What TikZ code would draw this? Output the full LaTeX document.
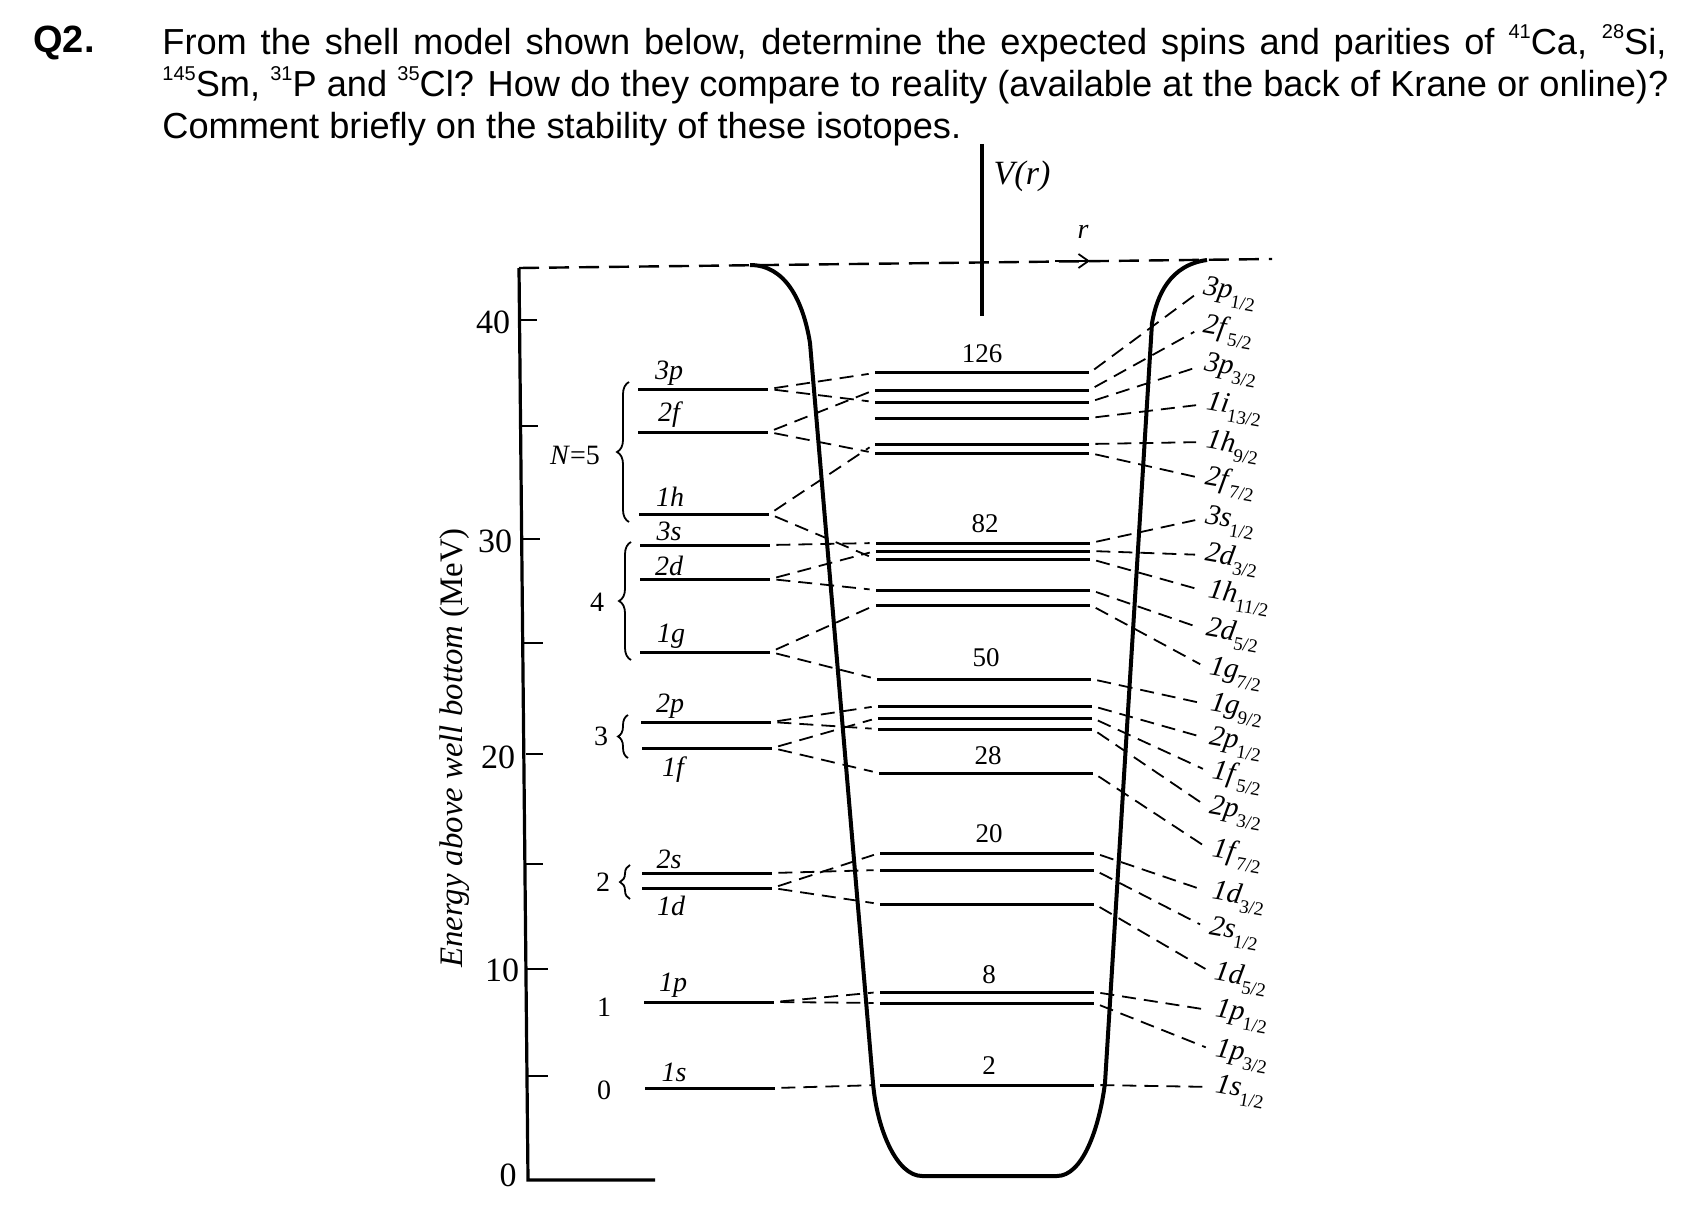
\documentclass[tikz,border=0pt]{standalone}
\usepackage{fontspec}
\setmainfont{Liberation Serif}
\setsansfont{Liberation Sans}
\usepackage{tikz}
\usetikzlibrary{arrows.meta,positioning,decorations.pathreplacing}
\newcommand{\isot}[1]{\raisebox{8pt}{\fontsize{10}{11}\selectfont #1}}
\newcommand{\orb}[2]{\textit{#1}\raisebox{-0.3em}{\fontsize{9.5}{10}\selectfont #2}}

\begin{document}
\begin{tikzpicture}[x=0.5pt,y=-0.5pt,>={Straight Barb[length=5pt,width=7pt]},
  levl/.style={fill=black,inner sep=0pt,minimum height=1.5pt,minimum width=65pt},
  levm/.style={fill=black,inner sep=0pt,minimum height=1.5pt,minimum width=107pt},
  dsh/.style={line width=0.9pt,dash pattern=on 7pt off 4pt,shorten <=3pt,shorten >=3pt},
  dshr/.style={dsh,shorten >=5pt},
  llab/.style={font=\fontsize{14}{16}\selectfont\itshape,inner sep=0pt},
  snum/.style={font=\fontsize{14}{16}\selectfont,inner sep=0pt},
  mag/.style={font=\fontsize{13.5}{15}\selectfont,inner sep=0pt},
  rlab/.style={font=\fontsize{14.5}{17}\selectfont,inner sep=0pt,anchor=west,rotate=-10},
  tnum/.style={font=\fontsize{17}{19}\selectfont,inner sep=0pt},
  tk/.style={line width=1.2pt},
  brc/.style={decorate,decoration={brace,amplitude=6pt,mirror},line width=0.9pt}]
\useasboundingbox (0,0) rectangle (1701,1219);
\node[anchor=north west,inner sep=0pt,font=\sffamily\bfseries\fontsize{19}{21}\selectfont] (qnum) at (33,26) {Q2.};
\node[anchor=north west,align=left,inner sep=0pt,font=\sffamily\fontsize{18.1}{21}\selectfont] (qtext) at (162,24) {\hbox to 752pt{From the shell model shown below, determine the expected spins and parities of \isot{41}Ca, \isot{28}Si,}\\ \hbox to 753pt{\isot{145}Sm, \isot{31}P and \isot{35}Cl? How do they compare to reality (available at the back of Krane or online)?}\\ Comment briefly on the stability of these isotopes.};
% energy axis
\coordinate (top) at (519,268);
\coordinate (bot) at (528,1180);
\coordinate (botr) at (655,1180);
\coordinate (far) at (1272,259);
\draw[line width=1.6pt] (top)--(bot)--(botr);
\draw[line width=1.2pt,dash pattern=on 10pt off 5pt] (top)--(far);
\draw[tk] (521,320)--(537,320); \draw[tk] (522,426)--(538,426); \draw[tk] (523,539)--(540,539); \draw[tk] (524,643)--(543,643);
\draw[tk] (526,754)--(543,754); \draw[tk] (526,864)--(543,864); \draw[tk] (527,969)--(548,969); \draw[tk] (528,1076)--(548,1076);
\node[tnum] (e40) at (493,322) {40};
\node[tnum] (e30) at (495,541) {30};
\node[tnum] (e20) at (498,757) {20};
\node[tnum] (e10) at (502,970) {10};
\node[tnum] (e0) at (508,1175) {0};
\node[rotate=90,font=\fontsize{16.4}{19}\selectfont\itshape,inner sep=0pt] (elab) at (455,748) {Energy above well bottom {\upshape (MeV)}};
% V(r) axis and well
\coordinate (vtop) at (982,144);
\coordinate (vbot) at (982,316);
\coordinate (ar0) at (1055,261);
\coordinate (ar1) at (1090,261);
\draw[line width=1.6pt] (vtop)--(vbot);
\node[llab,font=\fontsize{17}{19}\selectfont\itshape] (vr) at (1022,176) {V(r)};
\node[llab] (rr) at (1083,232) {r};
\draw[->,line width=0.9pt] (ar0)--(ar1);
\draw[line width=2pt] (750,265) .. controls (785,265) and (803,300) .. (810,343) -- (873,1083) .. controls (877,1130) and (897,1176) .. (922,1176) -- (1057,1176) .. controls (1082,1176) and (1099,1130) .. (1105,1083) -- (1152,323) .. controls (1157,295) and (1170,265) .. (1207,260);
% left levels
\node[levl] (l3p) at (703,389) {};
\node[levl] (l2f) at (703,432) {};
\node[levl] (l1h) at (704,514) {};
\node[levl] (l3s) at (705,545) {};
\node[levl] (l2d) at (705,579) {};
\node[levl] (l1g) at (705,652) {};
\node[levl] (l2p) at (706,722) {};
\node[levl] (l1f) at (707,748) {};
\node[levl] (l2s) at (707,873) {};
\node[levl] (l1d) at (707,888) {};
\node[levl] (l1p) at (709,1002) {};
\node[levl] (l1s) at (710,1088) {};
\node[llab,above=0.5pt of l3p,xshift=-17pt] (t3p) {3p};
\node[llab,above=1pt of l2f,xshift=-17pt] (t2f) {2f};
\node[llab,above=2.5pt of l1h,xshift=-17pt] (t1h) {1h};
\node[llab,above=1pt of l3s,xshift=-18pt] (t3s) {3s};
\node[llab,above=0.5pt of l2d,xshift=-18pt] (t2d) {2d};
\node[llab,above=0.5pt of l1g,xshift=-17pt] (t1g) {1g};
\node[llab,above=0.5pt of l2p,xshift=-18pt] (t2p) {2p};
\node[llab,below=3pt of l1f,xshift=-17pt] (t1f) {1f};
\node[llab,above=1pt of l2s,xshift=-19pt] (t2s) {2s};
\node[llab,below=3pt of l1d,xshift=-18pt] (t1d) {1d};
\node[llab,above=1pt of l1p,xshift=-18pt] (t1p) {1p};
\node[llab,above=2pt of l1s,xshift=-18pt] (t1s) {1s};
% shell numbers and braces
\node[snum] (n5) at (575,455) {\textit{N}=5};
\node[snum] (n4) at (597,602) {4};
\node[snum] (n3) at (601,736) {3};
\node[snum] (n2) at (603,882) {2};
\node[snum] (n1) at (604,1007) {1};
\node[snum] (n0) at (604,1090) {0};
\draw[brc] (629,382)--(629,522);
\draw[brc] (631,542)--(631,660);
\draw[brc,decoration={amplitude=5pt}] (628,715)--(628,758);
\draw[brc,decoration={amplitude=5pt}] (630,865)--(630,899);
% middle levels
\node[levm] (m3p1) at (982,373) {};
\node[levm] (m2f5) at (982,390) {};
\node[levm] (m3p3) at (982,402) {};
\node[levm] (m1i) at (982,418) {};
\node[levm] (m1h9) at (982,444) {};
\node[levm] (m2f7) at (982,453) {};
\node[levm] (m3s) at (983,543) {};
\node[levm] (m2d3) at (983,551) {};
\node[levm] (m1h11) at (983,559) {};
\node[levm] (m2d5) at (983,590) {};
\node[levm] (m1g7) at (983,605) {};
\node[levm] (m1g9) at (984,679) {};
\node[levm] (m2p1) at (985,706) {};
\node[levm] (m1f5) at (985,718) {};
\node[levm] (m2p3) at (985,729) {};
\node[levm] (m1f7) at (986,773) {};
\node[levm] (m1d3) at (987,853) {};
\node[levm] (m2s) at (987,870) {};
\node[levm] (m1d5) at (987,904) {};
\node[levm] (m1p1) at (987,992) {};
\node[levm] (m1p3) at (987,1003) {};
\node[levm] (m1s) at (987,1085) {};
\node[mag,above=4pt of m3p1] (c126) {126};
\node[mag,above=4pt of m3s,xshift=1pt] (c82) {82};
\node[mag,above=5pt of m1g9,xshift=1pt] (c50) {50};
\node[mag,above=3pt of m1f7,xshift=1pt] (c28) {28};
\node[mag,above=4pt of m1d3,xshift=1pt] (c20) {20};
\node[mag,above=3pt of m1p1,xshift=1pt] (c8) {8};
\node[mag,above=4pt of m1s,xshift=1pt] (c2) {2};
% right labels
\node[rlab] (r3p1) at (1203,289) {\orb{3p}{1/2}};
\node[rlab] (r2f5) at (1203,327) {\orb{2f}{5/2}};
\node[rlab] (r3p3) at (1204,365) {\orb{3p}{3/2}};
\node[rlab] (r1i) at (1206,404) {\orb{1i}{13/2}};
\node[rlab] (r1h9) at (1206,442) {\orb{1h}{9/2}};
\node[rlab] (r2f7) at (1205,479) {\orb{2f}{7/2}};
\node[rlab] (r3s) at (1205,518) {\orb{3s}{1/2}};
\node[rlab] (r2d3) at (1205,555) {\orb{2d}{3/2}};
\node[rlab] (r1h11) at (1208,592) {\orb{1h}{11/2}};
\node[rlab] (r2d5) at (1206,630) {\orb{2d}{5/2}};
\node[rlab] (r1g7) at (1209,669) {\orb{1g}{7/2}};
\node[rlab] (r1g9) at (1210,705) {\orb{1g}{9/2}};
\node[rlab] (r2p1) at (1209,739) {\orb{2p}{1/2}};
\node[rlab] (r1f5) at (1212,773) {\orb{1f}{5/2}};
\node[rlab] (r2p3) at (1209,808) {\orb{2p}{3/2}};
\node[rlab] (r1f7) at (1212,851) {\orb{1f}{7/2}};
\node[rlab] (r1d3) at (1212,893) {\orb{1d}{3/2}};
\node[rlab] (r2s) at (1209,929) {\orb{2s}{1/2}};
\node[rlab] (r1d5) at (1214,974) {\orb{1d}{5/2}};
\node[rlab] (r1p1) at (1215,1011) {\orb{1p}{1/2}};
\node[rlab] (r1p3) at (1215,1051) {\orb{1p}{3/2}};
\node[rlab] (r1s) at (1215,1087) {\orb{1s}{1/2}};
% splitting on the left
\draw[dsh] (l3p.east)--(m3p1.west); \draw[dsh] (l3p.east)--(m3p3.west);
\draw[dsh] (l2f.east)--(m2f5.west); \draw[dsh] (l2f.east)--(m2f7.west);
\draw[dsh] (l1h.east)--(m1h9.west); \draw[dsh] (l1h.east)--(m1h11.west);
\draw[dsh] (l3s.east)--(m3s.west);
\draw[dsh] (l2d.east)--(m2d3.west); \draw[dsh] (l2d.east)--(m2d5.west);
\draw[dsh] (l1g.east)--(m1g7.west); \draw[dsh] (l1g.east)--(m1g9.west);
\draw[dsh] (l2p.east)--(m2p1.west); \draw[dsh] (l2p.east)--(m2p3.west);
\draw[dsh] (l1f.east)--(m1f5.west); \draw[dsh] (l1f.east)--(m1f7.west);
\draw[dsh] (l2s.east)--(m2s.west);
\draw[dsh] (l1d.east)--(m1d3.west); \draw[dsh] (l1d.east)--(m1d5.west);
\draw[dsh] (l1p.east)--(m1p1.west); \draw[dsh] (l1p.east)--(m1p3.west);
\draw[dsh] (l1s.east)--(m1s.west);
% out to the right labels
\draw[dshr] (m3p1.east)--(r3p1.west); \draw[dshr] (m2f5.east)--(r2f5.west); \draw[dshr] (m3p3.east)--(r3p3.west);
\draw[dshr] (m1i.east)--(r1i.west); \draw[dshr] (m1h9.east)--(r1h9.west); \draw[dshr] (m2f7.east)--(r2f7.west);
\draw[dshr] (m3s.east)--(r3s.west); \draw[dshr] (m2d3.east)--(r2d3.west); \draw[dshr] (m1h11.east)--(r1h11.west);
\draw[dshr] (m2d5.east)--(r2d5.west); \draw[dshr] (m1g7.east)--(r1g7.west); \draw[dshr] (m1g9.east)--(r1g9.west);
\draw[dshr] (m2p1.east)--(r2p1.west); \draw[dshr] (m1f5.east)--(r1f5.west); \draw[dshr] (m2p3.east)--(r2p3.west);
\draw[dshr] (m1f7.east)--(r1f7.west); \draw[dshr] (m1d3.east)--(r1d3.west); \draw[dshr] (m2s.east)--(r2s.west);
\draw[dshr] (m1d5.east)--(r1d5.west); \draw[dshr] (m1p1.east)--(r1p1.west); \draw[dshr] (m1p3.east)--(r1p3.west);
\draw[dshr] (m1s.east)--(r1s.west);
\end{tikzpicture}
\end{document}
